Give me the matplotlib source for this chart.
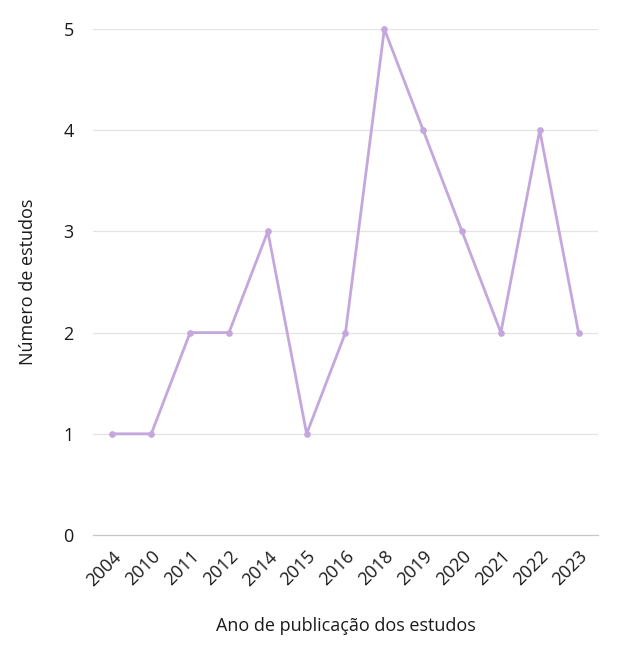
import matplotlib
matplotlib.use("Agg")
import matplotlib.pyplot as plt

# dados
anos = ["2004", "2010", "2011", "2012", "2014", "2015", "2016",
        "2018", "2019", "2020", "2021", "2022", "2023"]
estudos = [1, 1, 2, 2, 3, 1, 2, 5, 4, 3, 2, 4, 2]
y_ticks = [0, 1, 2, 3, 4, 5]

plt.rcParams['font.family'] = ['Open Sans', 'DejaVu Sans']

fig = plt.figure(figsize=(6.18, 6.52), dpi=100)
ax = fig.add_axes([0.1505, 0.1794, 0.8171, 0.7761])

x = list(range(len(anos)))
ax.plot(x, estudos, color='#c4a7dc', linewidth=2.0, marker='o',
        markersize=3.8, clip_on=False, zorder=3)

ax.set_xlim(-0.5, len(anos) - 0.5)
ax.set_ylim(0, 5)
ax.set_yticks(y_ticks)
ax.set_xticks(x)
ax.set_xticklabels(anos, rotation=45, ha='right', rotation_mode='anchor')

ax.grid(axis='y', color='#e3e3e3', linewidth=0.9)
ax.set_axisbelow(True)
for s in ['top', 'right', 'left']:
    ax.spines[s].set_visible(False)
ax.spines['bottom'].set_color('#c8c8c8')
ax.spines['bottom'].set_linewidth(0.9)
ax.tick_params(axis='both', length=0, labelsize=13, colors='#1a1a1a')
ax.tick_params(axis='y', pad=14)
ax.tick_params(axis='x', pad=9)

ax.set_xlabel('Ano de publicação dos estudos', fontsize=13, labelpad=20, color='#1a1a1a')
ax.set_ylabel('Número de estudos', fontsize=13, labelpad=19, color='#1a1a1a')

fig.savefig('out.png', dpi=100)
